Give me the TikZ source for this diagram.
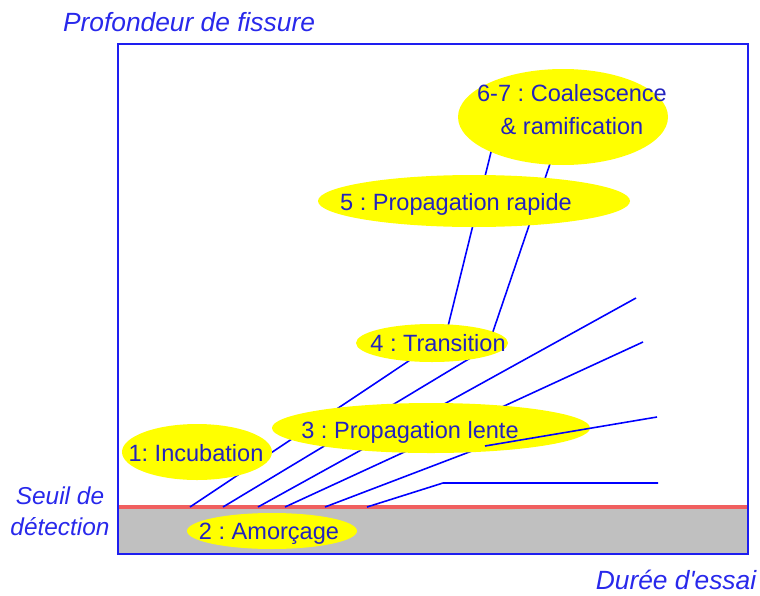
\documentclass[tikz,border=0pt]{standalone}
\usepackage{fontspec}
\setmainfont{Liberation Sans}
\frenchspacing
\definecolor{cadre}{RGB}{30,30,240}
\definecolor{seuil}{RGB}{240,95,95}
\definecolor{sol}{RGB}{192,192,192}
\definecolor{texte}{RGB}{35,35,190}
\definecolor{axe}{RGB}{40,40,235}
\definecolor{phase}{RGB}{255,255,0}
\tikzset{
	fissure/.style={draw=blue, line width=0.9pt},
	etape/.style={text=texte, font=\fontsize{13.4}{18.7}\selectfont, anchor=base, align=center},
	axelabel/.style={text=axe, font=\fontsize{15}{17.6}\selectfont\itshape}
}
\begin{document}
\begin{tikzpicture}[x=0.02cm,y=-0.02cm]
		\useasboundingbox (0,0) rectangle (760,595);
		\fill[sol] (118,508) rectangle (748,554);
		\draw[seuil, line width=2pt] (118,507) -- (748,507);
		
		% fissures (derriere les phases)
		\draw[fissure] (190,507) -- (445.5,336.4) -- (494,140);
		\draw[fissure] (223,507) -- (487.5,347.7) -- (553,155);
		\draw[fissure] (258,507) -- (636,298);
		\draw[fissure] (285,507) -- (643,342);
		\draw[fissure] (325,507) -- (485,446);
		\draw[fissure] (367,507) -- (443,483) -- (658,483);
		
		\fill[phase] (563,117) ellipse (105 and 48);
		\fill[phase] (474,201) ellipse (156 and 26);
		\fill[phase] (432,343) ellipse (76 and 19);
		\fill[phase] (431,428) ellipse (159 and 25);
		\fill[phase] (197,452) ellipse (75 and 28);
		\fill[phase] (272,531) ellipse (85 and 18);
		
		\node[etape] (coal) at (572,134) {6-7 : Coalescence\\\& ramification};
		\node[etape] (rapide) at (456,210) {5 : Propagation rapide};
		\node[etape] (trans) at (438,351) {4 : Transition};
		\node[etape] (lente) at (410,438) {3 : Propagation lente};
		\node[etape] (incub) at (196,461) {1: Incubation};
		\node[etape] (amorc) at (269,539) {2 : Amorçage};
		
		\draw[fissure] (485,446) -- (657,417);
		
		\draw[cadre, line width=1.4pt] (118,44) rectangle (748,554);
		
		\node[axelabel] (prof) at (189,22) {Profondeur de fissure};
		\node[axelabel] (duree) at (676,580) {Durée d\textquotesingle essai};
		\node[axelabel, align=center, font=\fontsize{13.9}{17.6}\selectfont\itshape] (det) at (60,511) {Seuil de\\détection};
	\end{tikzpicture}
\end{document}
